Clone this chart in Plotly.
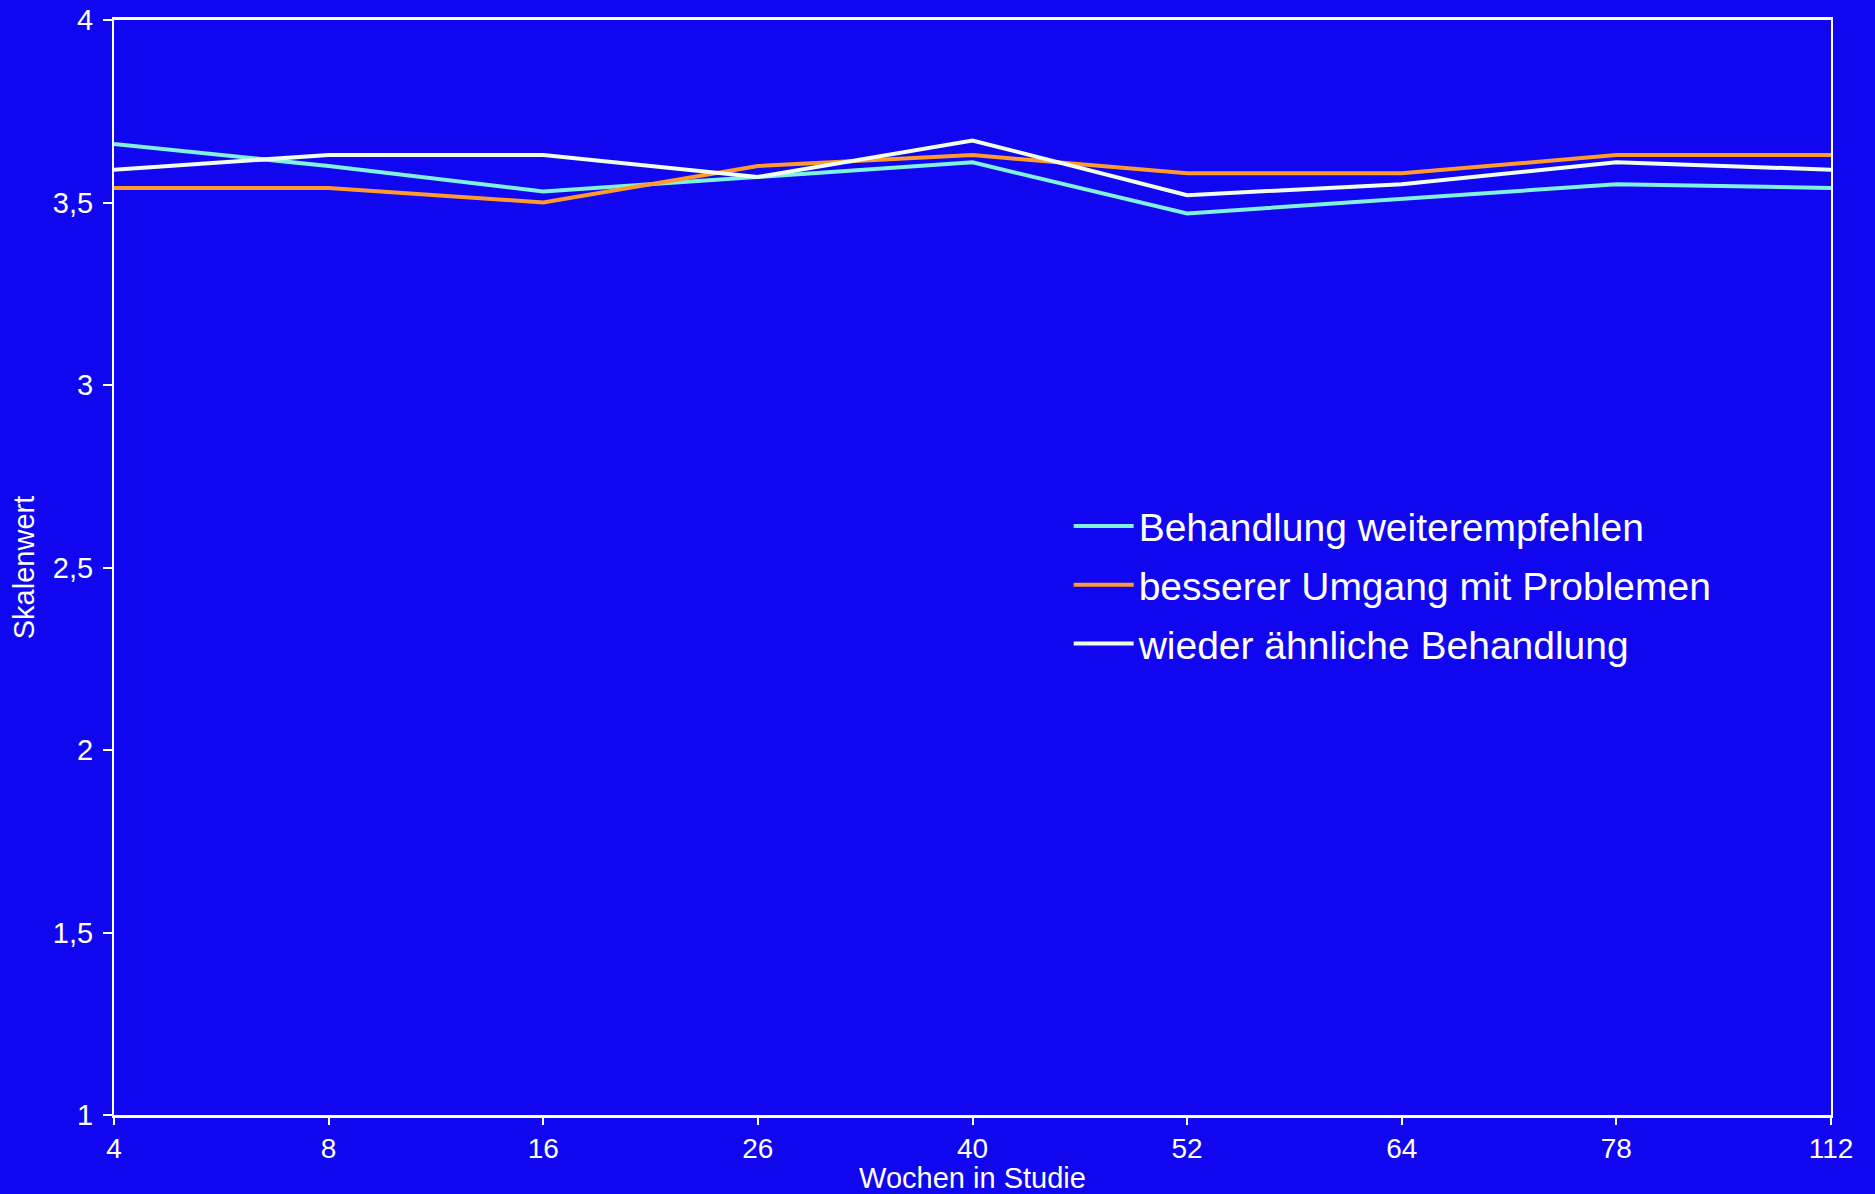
import plotly.graph_objects as go

# Study weeks (categorical x axis, evenly spaced)
weeks = ["4", "8", "16", "26", "40", "52", "64", "78", "112"]

# Mean scale values per item
weiterempfehlen = [3.66, 3.60, 3.53, 3.57, 3.61, 3.47, 3.51, 3.55, 3.54]
umgang_probleme = [3.54, 3.54, 3.50, 3.60, 3.63, 3.58, 3.58, 3.63, 3.63]
aehnliche_behandlung = [3.59, 3.63, 3.63, 3.57, 3.67, 3.52, 3.55, 3.61, 3.59]

series_names = [
    "Behandlung weiterempfehlen",
    "besserer Umgang mit Problemen",
    "wieder ähnliche Behandlung",
]
series_values = [weiterempfehlen, umgang_probleme, aehnliche_behandlung]
series_colors = ["#80F2E0", "#FF9B2E", "#F0FFF0"]

BG = "#1006F0"
FONT = "Liberation Sans, Arial, sans-serif"

fig = go.Figure()
for i, (name, vals, col) in enumerate(zip(series_names, series_values, series_colors)):
    fig.add_trace(go.Scatter(
        x=weeks, y=vals, name=name, mode="lines",
        line=dict(color=col, width=4),
        legendgroup=f"g{i}",
    ))

fig.update_layout(
    width=1875, height=1194,
    paper_bgcolor=BG, plot_bgcolor=BG,
    margin=dict(l=114, r=44, t=20, b=79),
    separators=", ",
    font=dict(family=FONT, color="white", size=29),
    showlegend=True,
    legend=dict(
        x=0.556, y=0.567, xanchor="left", yanchor="top",
        bgcolor="rgba(0,0,0,0)",
        font=dict(size=39, color="white", family=FONT),
        tracegroupgap=5,
        itemwidth=60,
    ),
    xaxis=dict(
        type="category", range=[0, 8],
        showgrid=False, zeroline=False,
        showline=True, linecolor="white", linewidth=2.5, mirror=True,
        ticks="outside", ticklen=7, tickcolor="white", tickwidth=1.5,
        ticklabelstandoff=0,
        tickfont=dict(size=28, color="white"),
        title=dict(text="Wochen in Studie", font=dict(size=29, color="white"), standoff=30),
        automargin=False,
    ),
    yaxis=dict(
        range=[1, 4], dtick=0.5, tick0=1,
        showgrid=False, zeroline=False,
        showline=True, linecolor="white", linewidth=2, mirror=True,
        ticks="outside", ticklen=9, tickcolor="white", tickwidth=1.5,
        ticklabelstandoff=4,
        tickfont=dict(size=29, color="white"),
        title=dict(text="Skalenwert", font=dict(size=29, color="white"), standoff=10),
        automargin=False,
    ),
)

fig.write_html("out.html")
